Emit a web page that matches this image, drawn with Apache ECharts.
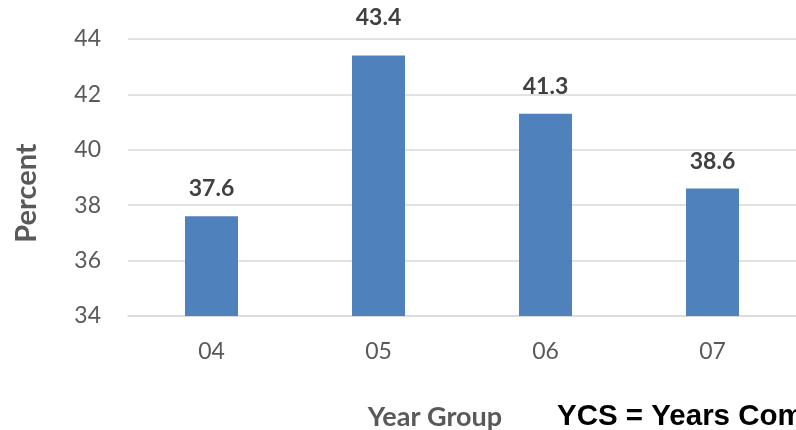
<!DOCTYPE html>
<html><head><meta charset="utf-8">
<script src="https://cdn.jsdelivr.net/npm/echarts@6/dist/echarts.min.js"></script>
<style>html,body{margin:0;padding:0;background:#fff}#c{width:796px;height:430px}</style>
</head><body><div id="c"></div>
<script>
const categories = ['04', '05', '06', '07'];
const values = [37.6, 43.4, 41.3, 38.6];
const yTicks = [34, 36, 38, 40, 42, 44];

const yMax = yTicks[yTicks.length - 1];
const chart = echarts.init(document.getElementById('c'), null, {renderer: 'canvas'});
chart.setOption({
  animation: false,
  grid: {left: 128, right: -1, top: 39, bottom: 114},
  xAxis: {
    type: 'category', data: categories,
    axisLine: {lineStyle: {color: '#d9d9d9', width: 1.5}},
    axisTick: {show: false},
    axisLabel: {color: '#595959', fontFamily: 'Lato', fontSize: 23, margin: 24}
  },
  yAxis: {
    type: 'value', min: yTicks[0], max: yMax, interval: 2,
    axisLine: {show: false}, axisTick: {show: false},
    splitLine: {lineStyle: {color: '#d9d9d9', width: 1.5}},
    axisLabel: {color: '#595959', fontFamily: 'Lato', fontSize: 23, margin: 27}
  },
  series: [{
    type: 'bar',
    data: values.map(v => (v > yMax - 1 ? {value: v, label: {distance: 27}} : v)),
    barWidth: 53,
    itemStyle: {color: '#4f81bd'},
    label: {show: true, position: 'top', distance: 16, color: '#404040', fontFamily: 'Lato', fontWeight: 'bold', fontSize: 23,
      formatter: p => p.value.toFixed(1)}
  }],
  graphic: [
    {type: 'text', x: 27, y: 193, rotation: Math.PI / 2,
      style: {text: 'Percent', fill: '#595959', font: 'bold 29px Lato', textAlign: 'center', textVerticalAlign: 'middle'}},
    {type: 'text', x: 435, y: 417,
      style: {text: 'Year Group', fill: '#595959', font: 'bold 27px Lato', textAlign: 'center', textVerticalAlign: 'middle'}},
    {type: 'text', x: 557, y: 417,
      style: {text: 'YCS = Years Completed at School', fill: '#000', font: 'bold 29.5px "Liberation Sans"', textAlign: 'left', textVerticalAlign: 'middle'}}
  ]
});
</script></body></html>
